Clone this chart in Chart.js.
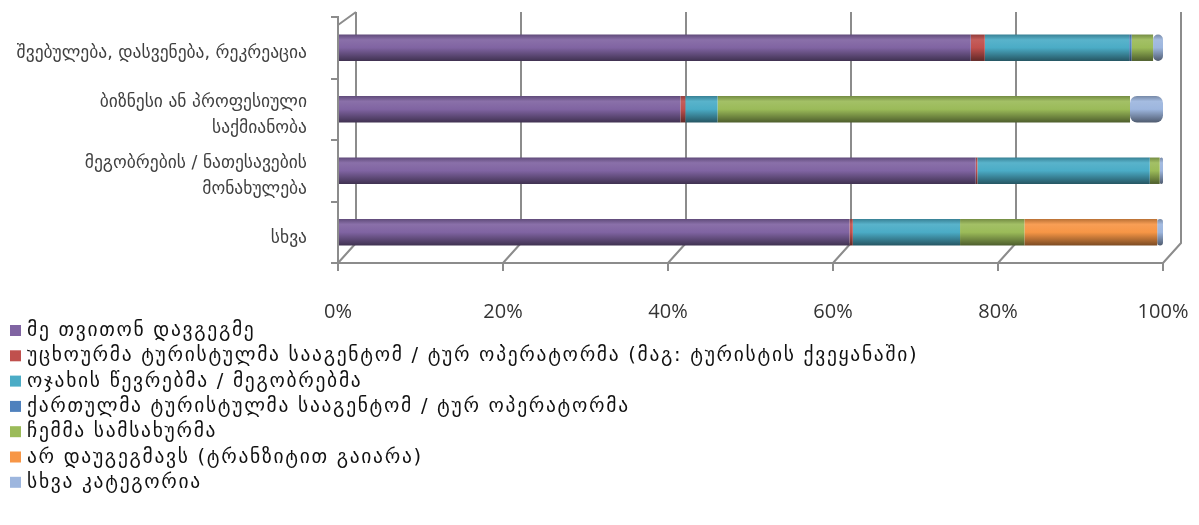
<!DOCTYPE html>
<html>
<head>
<meta charset="utf-8">
<script src="https://cdn.jsdelivr.net/npm/chart.js@4.4.1/dist/chart.umd.min.js"></script>
<style>
  html, body { margin: 0; padding: 0; background: #fff; }
  #wrap { width: 1199px; height: 525px; }
</style>
</head>
<body>
<div id="wrap"><canvas id="chart" width="1199" height="525"></canvas></div>
<script>
// Categories (top to bottom)
const categories = [
	'შვებულება, დასვენება, რეკრეაცია',
	['ბიზნესი ან პროფესიული', 'საქმიანობა'],
	['მეგობრების / ნათესავების', 'მონახულება'],
	'სხვა',
];

// Series (share of respondents, %)
const selfPlanned = [76.7, 41.5, 77.3, 62.0];
const foreignAgency = [1.7, 0.6, 0.2, 0.4];
const familyFriends = [17.5, 3.9, 20.9, 13.0];
const georgianAgency = [0.3, 0, 0, 0];
const myEmployer = [2.6, 50.0, 1.2, 7.8];
const notPlanned = [0, 0, 0, 16.1];
const otherCategory = [1.2, 4.0, 0.4, 0.7];

const seriesNames = [
	'მე თვითონ დავგეგმე',
	'უცხოურმა ტურისტულმა სააგენტომ / ტურ ოპერატორმა (მაგ: ტურისტის ქვეყანაში)',
	'ოჯახის წევრებმა / მეგობრებმა',
	'ქართულმა ტურისტულმა სააგენტომ / ტურ ოპერატორმა',
	'ჩემმა სამსახურმა',
	'არ დაუგეგმავს (ტრანზიტით გაიარა)',
	'სხვა კატეგორია',
];
const seriesColors = ['#8064A2', '#C0504D', '#4BACC6', '#4F81BD', '#9BBB59', '#F79646', '#9DB6DE'];

const xTicks = [0, 20, 40, 60, 80, 100];

const BAR_SHARE = 0.43;
const DEPTH_X = 18, DEPTH_Y = 20;

function shade(hex, f) {
	const n = parseInt(hex.slice(1), 16);
	let r = n >> 16, g = (n >> 8) & 255, b = n & 255;
	const t = f < 0 ? 0 : 255, p = Math.abs(f);
	r = Math.round(r + (t - r) * p);
	g = Math.round(g + (t - g) * p);
	b = Math.round(b + (t - b) * p);
	return 'rgb(' + r + ',' + g + ',' + b + ')';
}

// vertical gradient across each bar to fake the cylinder look
function cylinderFill(color) {
	return function (ctx) {
		const chart = ctx.chart;
		const y = chart.scales.y;
		if (!y || ctx.dataIndex === undefined) return color;
		const yc = y.getPixelForValue(ctx.dataIndex);
		const half = Math.abs(y.getPixelForValue(1) - y.getPixelForValue(0)) * BAR_SHARE / 2;
		if (!Number.isFinite(yc) || !Number.isFinite(half) || half <= 0) return color;
		const g = chart.ctx.createLinearGradient(0, yc - half, 0, yc + half);
		g.addColorStop(0, shade(color, -0.25));
		g.addColorStop(0.2, shade(color, 0.08));
		g.addColorStop(0.5, color);
		g.addColorStop(1, shade(color, -0.5));
		return g;
	};
}

const seriesData = [selfPlanned, foreignAgency, familyFriends, georgianAgency, myEmployer, notPlanned, otherCategory];

const datasets = seriesData.map((data, i) => ({
	label: seriesNames[i],
	data: data,
	backgroundColor: cylinderFill(seriesColors[i]),
	legendColor: seriesColors[i],
	borderWidth: 0,
	borderRadius: 7,
	borderSkipped: false,
	barPercentage: 1,
	categoryPercentage: BAR_SHARE,
}));

// back wall of the 3D frame: gridlines pushed back and joined to the front ticks
const backWall = {
	id: 'backWall',
	beforeDatasetsDraw(chart) {
		const { ctx, chartArea: a, scales } = chart;
		ctx.save();
		ctx.strokeStyle = '#8c8c8c';
		ctx.lineWidth = 2;
		ctx.beginPath();
		scales.x.ticks.forEach((t) => {
			const x = scales.x.getPixelForValue(t.value);
			ctx.moveTo(x + DEPTH_X, a.top - 5);
			ctx.lineTo(x + DEPTH_X, a.bottom - DEPTH_Y);
			ctx.lineTo(x, a.bottom);
		});
		ctx.moveTo(a.left, a.top + 8);
		ctx.lineTo(a.left + DEPTH_X, a.top - 5);
		ctx.stroke();
		ctx.restore();
	},
};

// legend drawn as a single column under the axis
const bottomLegend = {
	id: 'bottomLegend',
	afterDraw(chart) {
		const c = chart.ctx;
		c.save();
		c.font = '19.5px "DejaVu Sans"';
		c.letterSpacing = '1.7px';
		c.textBaseline = 'middle';
		c.textAlign = 'left';
		chart.data.datasets.forEach((ds, i) => {
			const y = 331 + i * 25.3;
			c.fillStyle = ds.legendColor;
			c.fillRect(10, y - 6, 11, 11);
			c.fillStyle = '#111';
			c.fillText(ds.label, 27, y);
		});
		c.restore();
	},
};

new Chart(document.getElementById('chart'), {
	type: 'bar',
	data: { labels: categories, datasets: datasets },
	plugins: [backWall, bottomLegend],
	options: {
		indexAxis: 'y',
		responsive: false,
		animation: false,
		layout: { padding: { top: 17, right: 36, bottom: 172, left: 0 } },
		plugins: {
			legend: { display: false },
			tooltip: { enabled: false },
		},
		scales: {
			x: {
				stacked: true,
				min: 0,
				max: 100,
				afterBuildTicks: (scale) => { scale.ticks = xTicks.map((v) => ({ value: v })); },
				afterFit: (scale) => { scale.paddingLeft = 0; scale.paddingRight = 0; },
				ticks: {
					callback: (v) => v + '%',
					color: '#333',
					font: { family: '"Open Sans"', size: 20 },
					padding: 29,
				},
				grid: { drawOnChartArea: false, color: '#8c8c8c', lineWidth: 2, tickLength: 8 },
				border: { color: '#8c8c8c', width: 2 },
			},
			y: {
				stacked: true,
				afterFit: (scale) => {
					scale.width = 338;
					scale.paddingTop = 0;
					scale.paddingBottom = 0;
				},
				ticks: {
					color: '#404040',
					font: { family: '"DejaVu Sans"', size: 17.5, lineHeight: 1.5 },
					padding: 24,
					labelOffset: 6,
				},
				grid: { drawOnChartArea: false, color: '#8c8c8c', lineWidth: 2, tickLength: 7 },
				border: { color: '#8c8c8c', width: 2 },
			},
		},
	},
});
</script>
</body>
</html>
